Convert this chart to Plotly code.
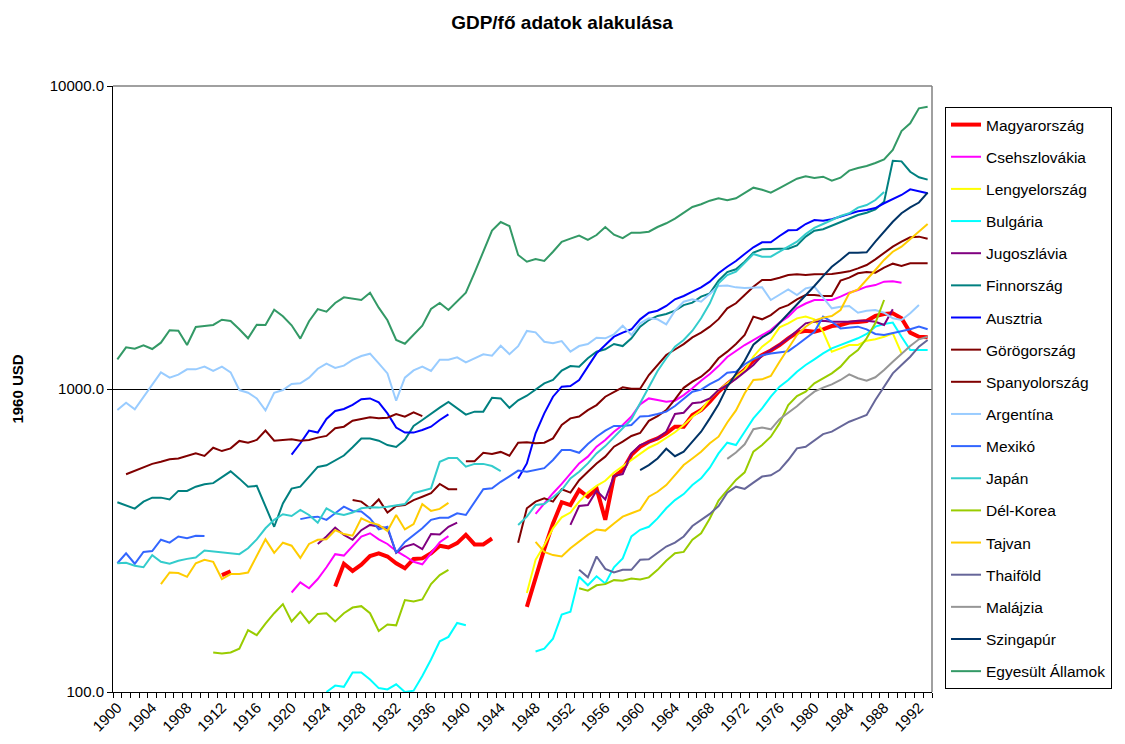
import plotly.graph_objects as go

# GDP per capita (1960 USD), each series = first year + yearly values (None = gap)
hu_start = 1912
hu = [243, 250] + [None] * 11 + [
    223, 265, 251, 263, 281, 287, 280, 266, 256, 275, 276, 287, 304, 300, 310, 330, 307, 307, 321] + [None] * 3 + [
    191, 240, 296, 360, 423, 414, 464, 441, 470, 370, 514, 540, 606,
    645, 670, 687, 714, 751, 751, 821, 852, 908, 980,
    1038, 1100, 1158, 1240, 1295, 1340, 1397, 1470, 1536, 1557,
    1545, 1574, 1614, 1627, 1656, 1664, 1676, 1742, 1769, 1778,
    1711, 1535, 1488, 1481]

cs_start = 1920
cs = [213, 230, 220, 236, 258, 285, 282, 304, 326, 334,
      319, 308, 292, 281, 269, 264, 287, 312, 327] + [None] * 9 + [
    387, 420, 453, 486, 527, 568, 598, 645, 679, 723, 761, 811,
    890, 931, 920, 908, 915, 955, 1005, 1065, 1120, 1190,
    1275, 1335, 1397, 1451, 1507, 1565, 1656, 1733, 1850, 1915,
    1967, 1967, 1967, 2017, 2079, 2122, 2176, 2203, 2261, 2268, 2244]

pl_start = 1947
pl = [212, 273, 305, 347, 377, 391, 425, 455, 479, 498, 530, 555, 580,
      610, 640, 660, 690, 720, 760, 810, 850, 930, 990,
      1044, 1093, 1155, 1278, 1380, 1451, 1598, 1647, 1711, 1733,
      1698, 1545, 1328, 1362, 1397, 1397, 1444, 1459, 1488, 1527, 1311]

bg_start = 1924
bg = [100, 105, 104, 116, 116, 110, 103, 102, 106, 100, 101, 113, 128, 147, 152, 169, 166] + [None] * 7 + [
    136, 139, 150, 180, 184, 240, 225, 241, 228, 258, 276, 326,
    343, 351, 374, 404, 430, 450, 482, 507, 550, 613,
    665, 653, 723, 800, 863, 943, 1018, 1071, 1140, 1200,
    1253, 1311, 1362, 1397, 1432, 1470, 1519, 1606, 1639, 1656,
    1488, 1345, 1345, 1345]

yu_start = 1923
yu = [308, 326, 349, 330, 318, 342, 356, 351, 347, 288, 302, 308, 296, 332, 331, 351, 362] + [None] * 12 + [
    356, 411, 414, 462, 432, 516, 524, 613,
    653, 670, 687, 723, 827, 835, 897, 904, 931, 992,
    1031, 1080, 1140, 1200, 1290, 1340, 1400, 1470, 1560, 1647,
    1667, 1681, 1667, 1667, 1667, 1681, 1681, 1667, 1627, 1832]

fi_start = 1900
fi = [423, 413, 403, 425, 438, 438, 432, 461, 461, 476,
      485, 489, 511, 535, 506, 476, 479, 409, 351, 419,
      469, 476, 514, 553, 560, 583, 603, 642, 686, 686,
      675, 653, 644, 680, 755, 790, 831, 868, 906, 863,
      823, 842, 842, 936, 931, 867, 918, 950, 998, 1044,
      1071, 1150, 1191, 1185, 1263, 1328, 1352, 1408, 1386, 1470,
      1606, 1689, 1742, 1769, 1813, 1892, 1927, 2017, 2069, 2278,
      2432, 2483, 2630, 2818, 2891, 2904, 2904, 2904, 2979, 3183,
      3331, 3366, 3459, 3540, 3632, 3752, 3818, 3917, 4150, 5669,
      5640, 5213, 4996, 4909]

at_start = 1920
at = [607, 662, 729, 718, 796, 846, 859, 886, 925, 931,
      904, 831, 746, 718, 718, 732, 751, 790, 825] + [None] * 7 + [
    507, 568, 714, 831, 943, 1018, 1023, 1071, 1185, 1311, 1397, 1488, 1535, 1574,
    1698, 1786, 1813, 1879, 1977, 2028, 2095, 2165, 2261, 2409,
    2533, 2645, 2790, 2935, 3048, 3048, 3198, 3340, 3349, 3504,
    3612, 3594, 3632, 3705, 3762, 3858, 3898, 3956, 4102, 4236,
    4368, 4560, 4491, 4424]

gr_start = 1927
gr = [430, 425, 404, 432, 391, 411, 414, 430, 441, 453, 486, 467, 467] + [None] * 6 + [
    311, 404, 425, 436, 425, 467, 455, 500, 533, 568, 598, 645, 670, 700,
    716, 785, 813, 852, 925, 1009, 1057, 1098, 1162, 1263,
    1328, 1408, 1507, 1733, 1698, 1754, 1846, 1892, 1977, 2043,
    2043, 2028, 2028, 2278, 2330, 2409, 2432, 2420, 2514, 2592,
    2547, 2600, 2600, 2600]

es_start = 1901
es = [523, 538, 551, 566, 575, 586, 590, 601, 613, 601,
      640, 624, 637, 674, 665, 679, 729, 675, 679, 682,
      675, 679, 691, 700, 742, 751, 786, 796, 806, 800,
      804, 827, 810, 838, 814] + [None] * 4 + [
    578, 578, 616, 610, 620, 602, 665, 667, 662, 665,
    687, 761, 800, 811, 852, 885, 943, 980, 1013, 1002,
    1002, 1112, 1197, 1295, 1350, 1406, 1480, 1535, 1606, 1700,
    1846, 1918, 2043, 2176, 2290, 2290, 2330, 2377, 2390, 2377,
    2390, 2396, 2396, 2420, 2445, 2501, 2566, 2679, 2803, 2950,
    3063, 3167, 3183, 3134]

ar_start = 1900
ar = [852, 901, 857, 943, 1030, 1135, 1090, 1115, 1161, 1161,
      1185, 1147, 1185, 1135, 992, 972, 931, 850, 972, 992,
      1039, 1044, 1090, 1167, 1212, 1173, 1194, 1247, 1285, 1308,
      1215, 1126, 915, 1090, 1152, 1185, 1147, 1250, 1250, 1272,
      1225, 1266, 1301, 1288, 1389, 1303, 1385, 1555, 1538, 1432,
      1415, 1439, 1328, 1386, 1407, 1477, 1470, 1515, 1618, 1507,
      1647, 1711, 1698, 1635, 1813, 1941, 1977, 1941, 2059, 2188,
      2195, 2165, 2154, 2165, 2165, 1967, 2043, 2133, 2043, 2148,
      2176, 2007, 1846, 1869, 1879, 1786, 1813, 1823, 1786, 1711,
      1689, 1778, 1892]

mx_start = 1900
mx = [266, 287, 265, 290, 292, 318, 311, 326, 322, 328, 327] + [None] * 10 + [
    372, 377, 379, 370, 389, 409, 396, 394, 374, 344,
    351, 288, 313, 330, 347, 370, 376, 376, 389, 384,
    425, 467, 470, 494, 515, 538, 533, 541, 548,
    583, 629, 629, 616, 658, 696, 729, 755, 755, 761,
    812, 814, 827, 842, 879, 931, 980, 995, 1038, 1073,
    1132, 1140, 1207, 1255, 1292, 1310, 1323, 1333, 1397, 1470,
    1545, 1733, 1667, 1585, 1598, 1606, 1574, 1519, 1507, 1527,
    1545, 1574, 1606, 1574]

jp_start = 1900
jp = [266, 267, 261, 258, 283, 269, 265, 271, 275, 278,
      293, 291, 289, 288, 285, 298, 319, 347, 370, 386,
      381, 399, 384, 362, 404, 389, 384, 391, 404, 407,
      406, 409, 412, 417, 453, 462, 470, 575, 592, 592,
      554, 566, 566, 557, 536, None, 356, 379, 414, 417,
      439, 464, 507, 533, 568, 613, 648, 696, 742, 794,
      901, 1023, 1147, 1263, 1380, 1451, 1557, 1711, 1918, 2233,
      2377, 2438, 2611, 2790, 2734, 2734, 2838, 2950, 3063, 3248,
      3400, 3504, 3612, 3724, 3802, 3968, 4047, 4205, 4467]

kr_start = 1911
kr = [135, 134, 135, 139, 160, 154, 168, 182, 195, 171,
      184, 169, 181, 182, 171, 182, 190, 192, 182, 159,
      167, 166, 201, 199, 202, 227, 243, 253] + [None] * 14 + [
    220, 216, 225, 227, 234, 233, 237,
    235, 239, 253, 271, 287, 290, 318, 334, 374, 428,
    462, 501, 531, 621, 653, 696, 770, 885, 948, 980,
    1044, 1085, 1126, 1185, 1278, 1345, 1470, 1650, 1967]

tw_start = 1905
tw = [227, 248, 247, 240, 266,
      273, 269, 236, 245, 245, 248, 280, 319, 288, 311,
      304, 277, 308, 318, 319, 342, 332, 328, 374, 363,
      356, 340, 384, 344, 358, 417, 396, 402, 421] + [None] * 9 + [
    313, 290, 283, 280, 298, 313, 330, 344, 341, 360, 379, 389,
    399, 441, 458, 482, 520, 561, 590, 621, 662, 696,
    775, 850, 968, 1071, 1076, 1104, 1230, 1362, 1507, 1606,
    1680, 1720, 1740, 1823, 2069, 2133, 2290, 2471, 2666, 2838,
    2950, 3121, 3304, 3504]

th_start = 1953
th = [253, 239, 280, 255, 248, 253, 253,
      273, 274, 287, 302, 311, 326, 353, 370, 387, 411,
      455, 476, 468, 491, 514, 519, 540, 583, 637, 645,
      679, 710, 723, 751, 780, 800, 821, 920, 1018, 1126,
      1200, 1278, 1380, 1451]

my_start = 1970
my = [588, 617, 657, 737, 746, 736, 795, 834, 877, 931,
      980, 1010, 1036, 1071, 1118, 1085, 1065, 1093, 1155, 1230,
      1305, 1386, 1459, 1488]

sg_start = 1960
sg = [540, 561, 590, 635, 600, 621, 670, 723, 800, 891,
      1018, 1126, 1240, 1400, 1480, 1540, 1650, 1780, 1900, 2030,
      2188, 2359, 2533, 2666, 2818, 2818, 2825, 3063, 3304, 3565,
      3802, 3978, 4125, 4446]

us_start = 1900
us = [1253, 1373, 1359, 1394, 1355, 1422, 1563, 1557, 1397, 1602,
      1614, 1627, 1693, 1676, 1574, 1470, 1630, 1627, 1827, 1738,
      1623, 1466, 1673, 1836, 1799, 1922, 2007, 1982, 1967, 2079,
      1855, 1686, 1451, 1411, 1511, 1618, 1836, 1922, 1823, 1947,
      2079, 2420, 2848, 3331, 3557, 3451, 2768, 2630, 2686, 2645,
      2838, 3062, 3134, 3207, 3103, 3223, 3425, 3232, 3148, 3280,
      3280, 3304, 3425, 3523, 3648, 3818, 3988, 4070, 4183, 4259,
      4195, 4259, 4435, 4618, 4548, 4446, 4606, 4761, 4945, 5035,
      4971, 5020, 4870, 4982, 5256, 5364, 5445, 5570, 5728, 6150,
      7104, 7530, 8440, 8548]

series = [
    ("Magyarország", hu_start, hu, "#FF0000", 4),
    ("Csehszlovákia", cs_start, cs, "#FF00FF", 2),
    ("Lengyelország", pl_start, pl, "#FFFF00", 2),
    ("Bulgária", bg_start, bg, "#00FFFF", 2),
    ("Jugoszlávia", yu_start, yu, "#800080", 2),
    ("Finnország", fi_start, fi, "#008080", 2),
    ("Ausztria", at_start, at, "#0000FF", 2),
    ("Görögország", gr_start, gr, "#800000", 2),
    ("Spanyolország", es_start, es, "#800000", 2),
    ("Argentína", ar_start, ar, "#99CCFF", 2),
    ("Mexikó", mx_start, mx, "#3366FF", 2),
    ("Japán", jp_start, jp, "#33CCCC", 2),
    ("Dél-Korea", kr_start, kr, "#99CC00", 2),
    ("Tajvan", tw_start, tw, "#FFCC00", 2),
    ("Thaiföld", th_start, th, "#666699", 2),
    ("Malájzia", my_start, my, "#969696", 2),
    ("Szingapúr", sg_start, sg, "#003366", 2),
    ("Egyesült Államok", us_start, us, "#339966", 2),
]

fig = go.Figure()
for name, start, vals, color, width in series:
    fig.add_trace(go.Scatter(
        x=list(range(start, start + len(vals))), y=vals, mode="lines", name=name,
        legendgroup=name, connectgaps=False, line=dict(color=color, width=width),
    ))

label_years = list(range(1900, 1993, 4))

# page body keeps its default 8px margin, so the figure is 8px smaller
fig.update_layout(
    width=1117,
    height=736,
    margin=dict(l=105, r=193, t=78, b=52, autoexpand=False),
    paper_bgcolor="white",
    plot_bgcolor="white",
    font=dict(family="Liberation Sans, Arial, sans-serif", size=15, color="black"),
    title=dict(text="<b>GDP/fő adatok alakulása</b>", x=0.496, xanchor="center",
               y=0.981, yanchor="middle", font=dict(size=19)),
    legend=dict(x=1.0159, xanchor="left", y=0.9653, yanchor="top",
                bordercolor="black", borderwidth=1, font=dict(size=15.5),
                tracegroupgap=9, itemwidth=30),
    xaxis=dict(
        range=[1899.5, 1993.5], tickmode="array", tickvals=label_years,
        ticktext=[str(y) for y in label_years], tickangle=-45, ticks="",
        tickfont=dict(size=15), showline=True, linecolor="black", linewidth=1,
        showgrid=False, zeroline=False, automargin=False,
        minor=dict(tickmode="linear", tick0=1899.5, dtick=1, ticks="outside",
                   ticklen=5, tickcolor="black", showgrid=False),
    ),
    yaxis=dict(
        type="log", range=[2, 4], tickmode="array", tickvals=[100, 1000, 10000],
        ticktext=["100.0", "1000.0", "10000.0"], ticks="outside", ticklen=5,
        tickcolor="black", tickfont=dict(size=15), showline=True, linecolor="black",
        linewidth=1, showgrid=True, gridcolor="black", gridwidth=1, zeroline=False,
        automargin=False,
        title=dict(text="<b>1960 USD</b>", font=dict(size=15), standoff=22),
    ),
    shapes=[
        dict(type="line", xref="paper", yref="paper", x0=0, x1=1, y0=1, y1=1,
             line=dict(color="#808080", width=1.5), layer="above"),
        dict(type="line", xref="paper", yref="paper", x0=1, x1=1, y0=0, y1=1,
             line=dict(color="#808080", width=1.5), layer="above"),
    ],
)

fig.write_html("out.html")
